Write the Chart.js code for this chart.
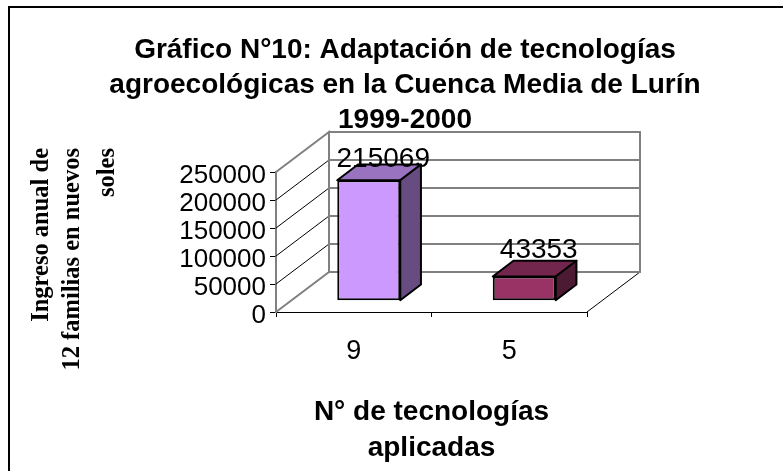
<!DOCTYPE html>
<html><head><meta charset="utf-8">
<script src="https://cdn.jsdelivr.net/npm/chart.js@4"></script>
<style>
html,body{margin:0;padding:0;background:#fff;overflow:hidden}
#frame{position:absolute;left:8px;top:6px;right:0;bottom:0;border-top:2px solid #000;border-left:2px solid #000;box-sizing:border-box}
#wrap{position:absolute;left:27px;top:0;width:756px;height:471px}
</style></head><body>
<div id="frame"></div>
<div id="wrap"><canvas id="c" width="756" height="471"></canvas></div>
<script>
const categories = ['9', '5'];
const values = [215069, 43353];
const frontColors = ['#CC99FF', '#993366'];
const topColors = ['#9973BF', '#73264D'];
const sideColors = ['#664C80', '#4D1A33'];
const tickStep = 50000;
const axisMax = 250000;
const chartTitle = ['Gráfico N°10: Adaptación de tecnologías', 'agroecológicas en la Cuenca Media de Lurín', '1999-2000'];
const xTitle = ['N° de tecnologías', 'aplicadas'];
const yTitle = ['Ingreso anual de', '12 familias en nuevos', 'soles'];

const wallDx = 53, wallDy = -40, barShiftX = 15, barShiftY = -11.3, barDx = 20.7, barDy = -15.7;
const labelRise = [13, 18];

const plugin3d = {
  id: 'plugin3d',
  beforeDatasetsDraw(chart) {
    const {ctx, scales:{x, y}} = chart;
    const l = x.left, r = x.right, b = y.bottom, t = y.top;
    ctx.save();
    ctx.lineCap = 'round';
    ctx.strokeStyle = '#000'; ctx.lineWidth = 1;
    y.ticks.forEach(tk => {
      const py = y.getPixelForValue(tk.value);
      if (tk.value === 0 || tk.value === axisMax) return;
      ctx.beginPath(); ctx.moveTo(l, py); ctx.lineTo(l + wallDx, py + wallDy); ctx.stroke();
    });
    ctx.beginPath(); ctx.moveTo(r, b); ctx.lineTo(r + wallDx, b + wallDy); ctx.stroke();
    ctx.strokeStyle = '#808080'; ctx.lineWidth = 2;
    y.ticks.forEach(tk => {
      const py = y.getPixelForValue(tk.value) + wallDy;
      ctx.beginPath(); ctx.moveTo(l + wallDx, py); ctx.lineTo(r + wallDx, py); ctx.stroke();
    });
    ctx.beginPath();
    ctx.moveTo(l, b); ctx.lineTo(l + wallDx, b + wallDy); ctx.lineTo(l + wallDx, t + wallDy);
    ctx.lineTo(l, t); ctx.stroke();
    ctx.beginPath();
    ctx.moveTo(r + wallDx, t + wallDy); ctx.lineTo(r + wallDx, b + wallDy); ctx.stroke();
    ctx.restore();
    ctx.save();
    ctx.fillStyle = '#000';
    ctx.font = 'bold 24.5px "Liberation Serif"';
    ctx.textAlign = 'right'; ctx.textBaseline = 'middle';
    [15, 46, 81].forEach((dx, i) => {
      ctx.save(); ctx.translate(dx, 148); ctx.rotate(-Math.PI / 2);
      ctx.fillText(yTitle[i], 0, 0); ctx.restore();
    });
    ctx.restore();
    const meta = chart.getDatasetMeta(0);
    ctx.save();
    ctx.translate(barShiftX, barShiftY);
    ctx.strokeStyle = '#000'; ctx.lineWidth = 2; ctx.lineJoin = 'round';
    meta.data.forEach((bar, i) => {
      const x0 = bar.x - bar.width / 2, x1 = bar.x + bar.width / 2, yt = bar.y, yb = bar.base;
      ctx.fillStyle = topColors[i];
      ctx.beginPath(); ctx.moveTo(x0, yt); ctx.lineTo(x0 + barDx, yt + barDy); ctx.lineTo(x1 + barDx, yt + barDy); ctx.lineTo(x1, yt); ctx.closePath(); ctx.fill(); ctx.stroke();
      ctx.fillStyle = sideColors[i];
      ctx.beginPath(); ctx.moveTo(x1, yt); ctx.lineTo(x1 + barDx, yt + barDy); ctx.lineTo(x1 + barDx, yb + barDy); ctx.lineTo(x1, yb); ctx.closePath(); ctx.fill(); ctx.stroke();
    });
  },
  afterDatasetsDraw(chart) {
    const {ctx} = chart;
    ctx.restore();
    const meta = chart.getDatasetMeta(0);
    ctx.save();
    ctx.fillStyle = '#000';
    ctx.font = '28px "Liberation Sans"';
    ctx.textAlign = 'center'; ctx.textBaseline = 'alphabetic';
    meta.data.forEach((bar, i) => {
      ctx.fillText(String(values[i]), bar.x + 29.5, bar.y + barShiftY - labelRise[i]);
    });
    ctx.restore();
  }
};

new Chart(document.getElementById('c'), {
  type: 'bar',
  data: { labels: categories, datasets: [{
    data: values,
    backgroundColor: frontColors,
    borderColor: '#000',
    borderWidth: 2,
    borderSkipped: false,
    categoryPercentage: 1,
    barPercentage: 0.405
  }]},
  plugins: [plugin3d],
  options: {
    responsive: false,
    animation: false,
    layout: { padding: { top: 24, right: 0, left: 0, bottom: 0 } },
    plugins: {
      legend: { display: false },
      tooltip: { enabled: false },
      title: {
        display: true,
        text: chartTitle,
        color: '#000',
        font: { family: '"Liberation Sans"', size: 28, weight: 'bold', lineHeight: 1.25 },
        padding: { top: 9, bottom: 34 }
      }
    },
    scales: {
      x: {
        afterFit(s) { s.height = 159; },
        grid: { drawOnChartArea: false, color: '#000', tickLength: 5, offset: true },
        border: { color: '#000', width: 1 },
        ticks: { color: '#000', font: { family: '"Liberation Sans"', size: 27 }, padding: 18 },
        title: { display: true, text: xTitle, color: '#000',
          font: { family: '"Liberation Sans"', size: 28, weight: 'bold', lineHeight: 1.28 }, padding: { top: 0, bottom: 5 } }
      },
      y: {
        min: 0, max: axisMax,
        afterFit(s) { s.width = 249; },
        grid: { drawOnChartArea: false, color: '#000', tickLength: 6 },
        border: { color: '#808080', width: 2 },
        ticks: { stepSize: tickStep, autoSkip: false, color: '#000', padding: 4, labelOffset: 3.5,
          font: { family: '"Liberation Sans"', size: 26 }, callback: v => String(v) }
      },
      rightSpace: {
        position: 'right',
        afterFit(s) { s.width = 196; },
        grid: { display: false },
        border: { display: false },
        ticks: { display: false }
      }
    }
  }
});
</script>
</body></html>
